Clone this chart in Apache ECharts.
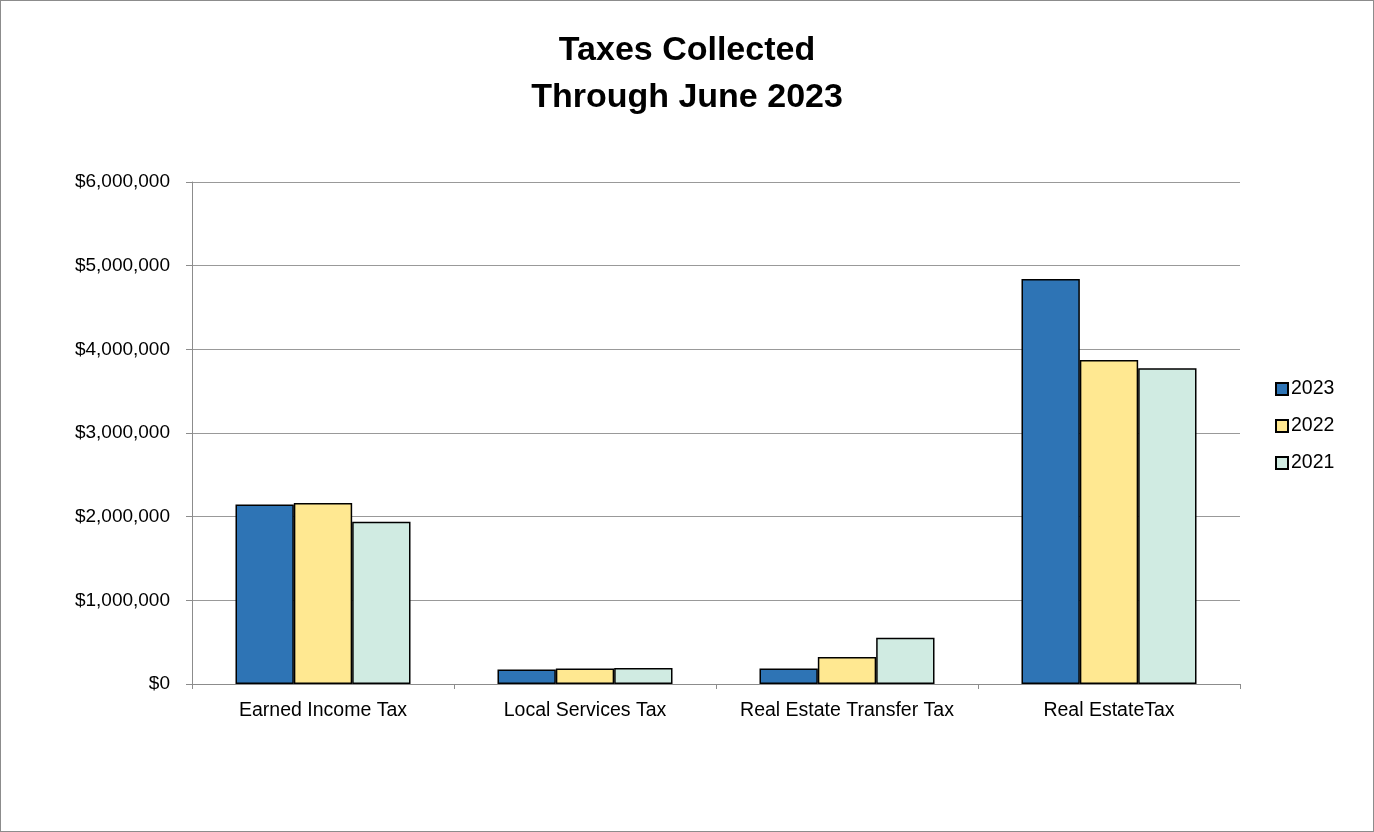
<!DOCTYPE html>
<html><head><meta charset="utf-8">
<script src="https://cdn.jsdelivr.net/npm/echarts@6/dist/echarts.min.js"></script>
<style>html,body{margin:0;padding:0;background:#fff}#c{width:1372px;height:830px;border:1px solid #8c8c8c}</style>
</head><body><div id="c"></div>
<script>
const categories = ['Earned Income Tax', 'Local Services Tax', 'Real Estate Transfer Tax', 'Real EstateTax'];
const seriesNames = ['2023', '2022', '2021'];
const values2023 = [2145000, 173000, 185000, 4842000];
const values2022 = [2164000, 185000, 324000, 3873000];
const values2021 = [1938000, 190000, 554000, 3774000];
const colors = ['#2e74b5', '#ffe891', '#d0ebe2'];
const allValues = [values2023, values2022, values2021];

const chart = echarts.init(document.getElementById('c'));
const fmt = v => '$' + v.toLocaleString('en-US');
const ff = 'Liberation Sans, Arial';
chart.setOption({
  animation: false,
  title: {
    text: 'Taxes Collected\nThrough June 2023',
    left: 'center', top: 21,
    textStyle: { fontFamily: ff, fontWeight: 'bold', fontSize: 34, lineHeight: 47, color: '#000' }
  },
  legend: {
    orient: 'vertical', left: 1269, top: 373, itemGap: 17,
    itemWidth: 12, itemHeight: 12, icon: 'rect',
    textStyle: { fontFamily: ff, fontSize: 19.5, color: '#000', padding: [0, 0, 0, -2] },
    data: seriesNames
  },
  grid: { left: 191, right: 133, top: 181, bottom: 147 },
  xAxis: {
    type: 'category', data: categories,
    axisLine: { lineStyle: { color: '#8c8c8c', width: 1 } },
    axisTick: { show: true, length: 5, interval: 0, lineStyle: { color: '#8c8c8c' } },
    axisLabel: { fontFamily: ff, fontSize: 19.5, color: '#000', margin: 17, interval: 0 }
  },
  yAxis: {
    type: 'value', min: 0, max: 6000000, interval: 1000000,
    axisLine: { show: true, lineStyle: { color: '#8c8c8c' } },
    axisTick: { show: true, length: 6, inside: false, lineStyle: { color: '#8c8c8c' } },
    splitLine: { lineStyle: { color: '#999', width: 1 } },
    axisLabel: { fontFamily: ff, fontSize: 19, color: '#000', margin: 22, formatter: fmt }
  },
  series: seriesNames.map((n, i) => ({
    name: n, type: 'bar', data: allValues[i],
    barGap: '0%', barCategoryGap: '33.2%',
    itemStyle: { color: colors[i], borderColor: '#000', borderWidth: 1.5 }
  }))
});
</script></body></html>
